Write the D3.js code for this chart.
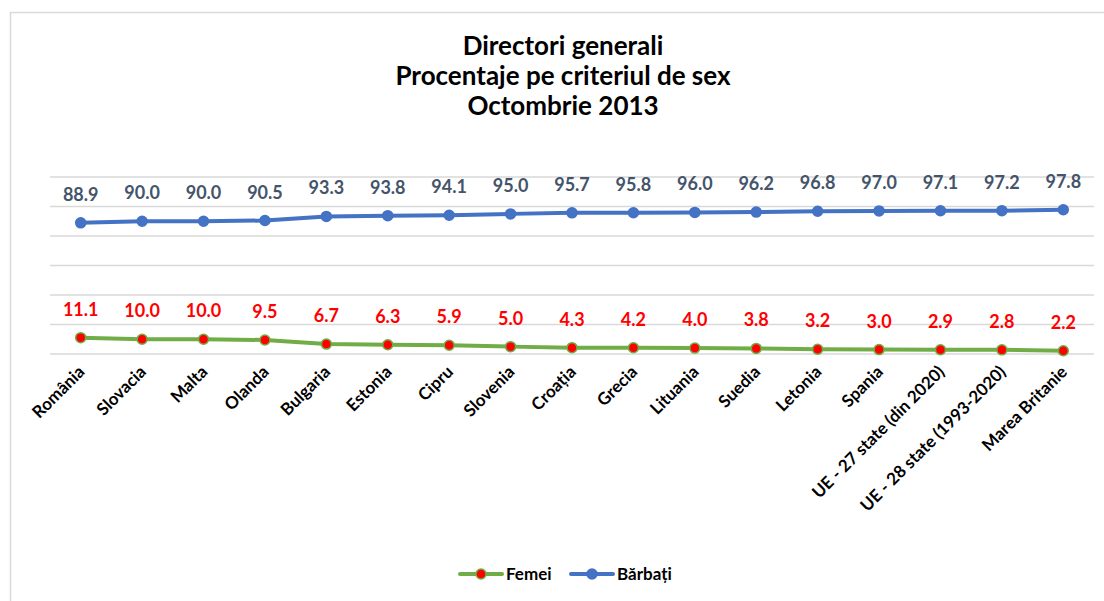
<!DOCTYPE html>
<html lang="ro">
  <head>
    <meta charset="UTF-8" />
    <title>Directori generali</title>
    <script src="https://d3js.org/d3.v7.min.js"></script>
    <style>
      body {
        margin: 0;
        padding: 0;
        background: #fff;
        font-family: Lato, "Open Sans", sans-serif;
      }
      svg {
        display: block;
      }
    </style>
  </head>
  <body>
    <svg width="1104" height="601"></svg>
    <script>
      // date
      const tari = [
        "România", "Slovacia", "Malta", "Olanda", "Bulgaria", "Estonia",
        "Cipru", "Slovenia", "Croația", "Grecia", "Lituania", "Suedia",
        "Letonia", "Spania", "UE - 27 state (din 2020)",
        "UE - 28 state (1993-2020)", "Marea Britanie"
      ];
      const femei = [11.1, 10.0, 10.0, 9.5, 6.7, 6.3, 5.9, 5.0, 4.3, 4.2, 4.0, 3.8, 3.2, 3.0, 2.9, 2.8, 2.2];
      const barbati = [88.9, 90.0, 90.0, 90.5, 93.3, 93.8, 94.1, 95.0, 95.7, 95.8, 96.0, 96.2, 96.8, 97.0, 97.1, 97.2, 97.8];
      const yTicks = [0, 20, 40, 60, 80, 100, 120];
      const titlu = ["Directori generali", "Procentaje pe criteriul de sex", "Octombrie 2013"];

      const serii = [
        { nume: "Femei", valori: femei, linie: "#70ad47", punct: "#ff0000", eticheta: "#ff0000" },
        { nume: "Bărbați", valori: barbati, linie: "#4472c4", punct: "#4472c4", eticheta: "#44546a" }
      ];

      const svg = d3.select("svg");
      const margin = { top: 177, right: 10, bottom: 247, left: 50 };
      const width = 1104 - margin.left - margin.right;
      const height = 601 - margin.top - margin.bottom;

      // chenar
      svg.append("rect")
        .attr("x", 10.5).attr("y", 12.5)
        .attr("width", 1110).attr("height", 610)
        .attr("fill", "none")
        .attr("stroke", "#d9d9d9")
        .attr("stroke-width", 1.5);

      // titlu
      svg.append("g")
        .selectAll("text")
        .data(titlu)
        .enter()
        .append("text")
        .attr("x", 563)
        .attr("y", (d, i) => 55 + i * 30)
        .attr("text-anchor", "middle")
        .attr("font-size", 26)
        .attr("font-weight", "bold")
        .attr("fill", "#000")
        .text((d) => d);

      const g = svg.append("g")
        .attr("transform", `translate(${margin.left},${margin.top})`);

      const x = d3.scaleBand().domain(tari).range([0, width]);
      const y = d3.scaleLinear().domain([0, 120]).range([height, 0]);

      // linii de grilă
      g.append("g")
        .selectAll("line")
        .data(yTicks)
        .enter()
        .append("line")
        .attr("x1", 0).attr("x2", width)
        .attr("y1", (d) => y(d)).attr("y2", (d) => y(d))
        .attr("stroke", "#d9d9d9")
        .attr("stroke-width", 1.5);

      // etichete axa X
      g.append("g")
        .selectAll("text")
        .data(tari)
        .enter()
        .append("text")
        .attr("transform", (d) => `translate(${x(d) + x.bandwidth() / 2 + 5},${height + 19}) rotate(-45)`)
        .attr("text-anchor", "end")
        .attr("font-size", 17)
        .attr("font-weight", "bold")
        .attr("fill", "#000")
        .text((d) => d);

      const cx = (i) => x(tari[i]) + x.bandwidth() / 2;

      serii.forEach((s) => {
        const line = d3.line()
          .x((d, i) => cx(i))
          .y((d) => y(d));

        g.append("path")
          .datum(s.valori)
          .attr("d", line)
          .attr("fill", "none")
          .attr("stroke", s.linie)
          .attr("stroke-width", 4)
          .attr("stroke-linejoin", "round");

        g.append("g")
          .selectAll("circle")
          .data(s.valori)
          .enter()
          .append("circle")
          .attr("cx", (d, i) => cx(i))
          .attr("cy", (d) => y(d))
          .attr("r", 5)
          .attr("fill", s.punct)
          .attr("stroke", s.linie)
          .attr("stroke-width", 1.5);

        g.append("g")
          .selectAll("text")
          .data(s.valori)
          .enter()
          .append("text")
          .attr("x", (d, i) => cx(i))
          .attr("y", (d) => y(d) - 22)
          .attr("text-anchor", "middle")
          .attr("font-size", 18)
          .attr("font-weight", "bold")
          .attr("fill", s.eticheta)
          .text((d) => d.toFixed(1));
      });

      // legenda
      const legend = svg.append("g").attr("transform", "translate(460,574)");
      const pozitii = [0, 111];
      serii.forEach((s, i) => {
        const item = legend.append("g").attr("transform", `translate(${pozitii[i]},0)`);
        item.append("line")
          .attr("x1", 0).attr("x2", 42)
          .attr("stroke", s.linie)
          .attr("stroke-width", 4)
          .attr("stroke-linecap", "round");
        item.append("circle")
          .attr("cx", 21).attr("cy", 0).attr("r", 5)
          .attr("fill", s.punct)
          .attr("stroke", s.linie)
          .attr("stroke-width", 1.5);
        item.append("text")
          .attr("x", 46).attr("y", 6)
          .attr("font-size", 17)
          .attr("font-weight", "bold")
          .attr("fill", "#000")
          .text(s.nume);
      });
    </script>
  </body>
</html>
